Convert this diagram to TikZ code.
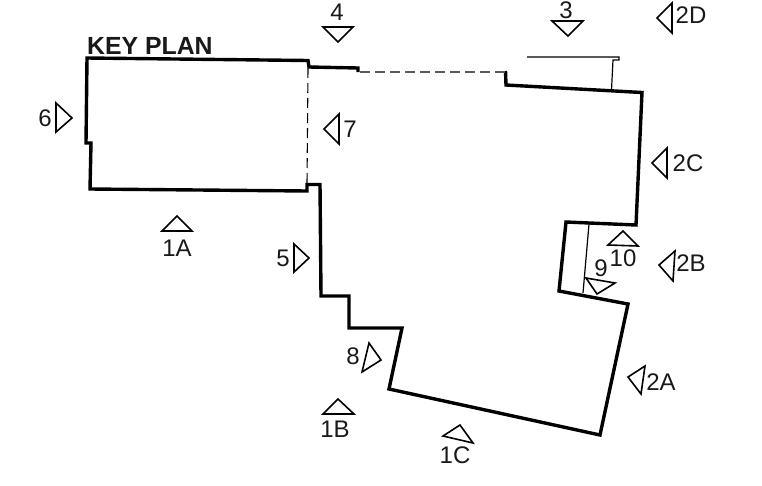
\documentclass[tikz,border=0pt]{standalone}
\usepackage{fontspec}
\setmainfont{Liberation Sans}
\tikzset{
  wall/.style={line width=3.4pt,line join=miter,line cap=butt},
  thin line/.style={line width=1.2pt},
  dash line/.style={line width=1.1pt,dash pattern=on 10pt off 5pt},
  secmark/.style={line width=1.6pt,line join=miter},
  lab/.style={inner sep=0pt,font=\fontsize{24}{26}\selectfont,text=black!90},
}
\begin{document}
\begin{tikzpicture}[x=1pt,y=-1pt]
\useasboundingbox (0,0) rectangle (762,485);
% walls
\draw[wall] (358,72) -- (358,68) -- (309,67) -- (308,60.5) -- (87,58) -- (86,143) -- (91,143) -- (90,189) -- (307,191) -- (307,184.5) -- (320,184.5) -- (321,296) -- (349,296) -- (349,328) -- (402,328) -- (389,389) -- (600,435) -- (628,304) -- (559,291) -- (566,222) -- (636,225) -- (642,92.5) -- (506,85) -- (505.5,71);
% thin lines
\draw[thin line] (527,57) -- (619,57) -- (619,60) -- (613,60) -- (611.5,90);
\draw[thin line] (589,224) -- (583,293);
% dashed
\draw[dash line,black!65] (360,72) -- (505,72);
\draw[dash line] (308,68) -- (307,184);
% section marks
\draw[secmark] (552,21) -- (583,21) -- (568,36) -- cycle;
\draw[secmark] (672,3) -- (672,33) -- (657,18) -- cycle;
\draw[secmark] (323,27) -- (353,27) -- (338,42) -- cycle;
\draw[secmark] (339,114) -- (339,144) -- (324,129) -- cycle;
\draw[secmark] (56,103) -- (56,132) -- (72,118) -- cycle;
\draw[secmark] (162,231) -- (192,231) -- (177,216) -- cycle;
\draw[secmark] (323,414) -- (354,414) -- (338,399) -- cycle;
\draw[secmark] (443,436) -- (473,443) -- (460,425) -- cycle;
\draw[secmark] (369,343) -- (381,360) -- (362,372) -- cycle;
\draw[secmark] (294,244) -- (294,272) -- (309,258) -- cycle;
\draw[secmark] (667,148) -- (667,178) -- (652,163) -- cycle;
\draw[secmark] (675,251) -- (673,281) -- (659,265) -- cycle;
\draw[secmark] (645,366) -- (641,394) -- (628,377) -- cycle;
\draw[secmark] (608,245) -- (638,246) -- (623,231) -- cycle;
\draw[secmark] (586,278) -- (615,283) -- (597,294) -- cycle;
% labels
\node[lab,anchor=west,font=\fontsize{24.8}{26}\bfseries\selectfont] (key) at (87,46) {KEY PLAN};
\node[lab] (l3) at (566,10) {3};
\node[lab] (l2D) at (691,15) {2D};
\node[lab] (l4) at (337,12.5) {4};
\node[lab] (l7) at (350,129) {7};
\node[lab] (l6) at (45,118) {6};
\node[lab] (l1A) at (177,248) {1A};
\node[lab] (l1B) at (335,429) {1B};
\node[lab] (l1C) at (455,455) {1C};
\node[lab] (l8) at (353,356) {8};
\node[lab] (l5) at (283,258) {5};
\node[lab] (l2C) at (688,163) {2C};
\node[lab] (l2B) at (691,263) {2B};
\node[lab] (l2A) at (661,382) {2A};
\node[lab] (l10) at (623,258) {10};
\node[lab] (l9) at (601,268) {9};
\end{tikzpicture}
\end{document}
